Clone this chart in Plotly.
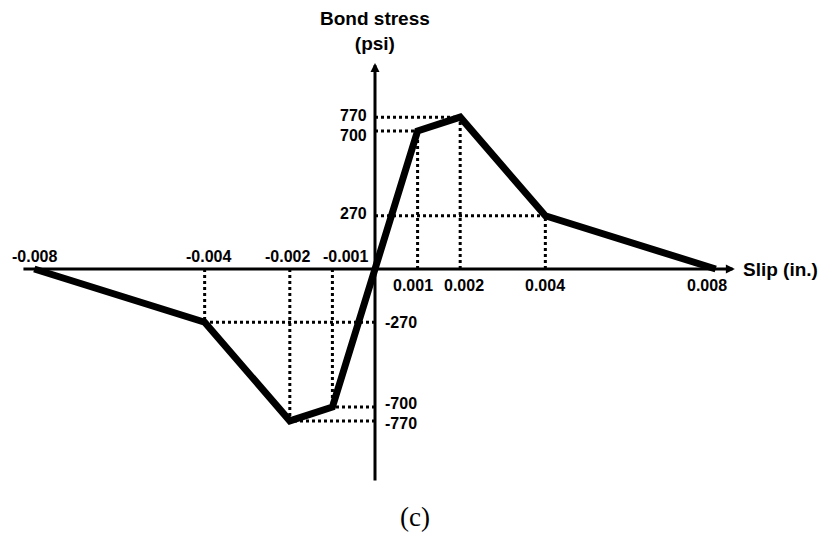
import plotly.graph_objects as go

# Data
slip = [-0.008, -0.004, -0.002, -0.001, 0.0, 0.001, 0.002, 0.004, 0.008]
stress = [0, -270, -770, -700, 0, 700, 770, 270, 0]

x_tick_labels = ["-0.008", "-0.004", "-0.002", "-0.001", "0.001", "0.002", "0.004", "0.008"]
x_tick_values = [-0.008, -0.004, -0.002, -0.001, 0.001, 0.002, 0.004, 0.008]
y_tick_values = [770, 700, 270, -270, -700, -770]
y_tick_labels = ["770", "700", "270", "-270", "-700", "-770"]

FONT = "Arial, Liberation Sans, sans-serif"

fig = go.Figure()

# dotted guide lines from the axes to each vertex
gx, gy = [], []
for xv, yv in zip(slip, stress):
    if yv == 0:
        continue
    gx += [xv, xv, None, 0, xv, None]
    gy += [0, yv, None, yv, yv, None]
fig.add_trace(go.Scatter(x=gx, y=gy, mode="lines",
                         line=dict(color="black", width=3, dash="dot"),
                         hoverinfo="skip", showlegend=False))

# bond-slip curve
fig.add_trace(go.Scatter(x=slip, y=stress, mode="lines",
                         line=dict(color="black", width=7),
                         showlegend=False))

annotations = []
# axes with arrows
annotations.append(dict(x=0.00845, y=0, ax=-0.00829, ay=0, xref="x", yref="y",
                        axref="x", ayref="y", text="", showarrow=True,
                        arrowhead=2, arrowwidth=3, arrowsize=0.6, arrowcolor="black"))
annotations.append(dict(x=0, y=1045, ax=0, ay=-1080, xref="x", yref="y",
                        axref="x", ayref="y", text="", showarrow=True,
                        arrowhead=2, arrowwidth=3, arrowsize=0.6, arrowcolor="black"))

# x tick labels
xshifts = {"-0.008": 0, "-0.004": 4, "-0.002": -2, "-0.001": 13,
           "0.001": -5, "0.002": 4, "0.004": 0, "0.008": -9}
for xv, lab in zip(x_tick_values, x_tick_labels):
    neg = xv < 0
    annotations.append(dict(x=xv, y=0, xref="x", yref="y", text="<b>%s</b>" % lab,
                            showarrow=False, xanchor="center", yanchor="middle",
                            xshift=xshifts[lab], yshift=13 if neg else -16,
                            font=dict(family=FONT, size=16, color="black")))

# y tick labels
yshifts = {"770": 2, "700": -5, "270": 2, "-270": 0, "-700": 4, "-770": -3}
for yv, lab in zip(y_tick_values, y_tick_labels):
    pos = yv > 0
    annotations.append(dict(x=0, y=yv, xref="x", yref="y", text="<b>%s</b>" % lab,
                            showarrow=False, xanchor="right" if pos else "left",
                            yanchor="middle", xshift=-6 if pos else 8,
                            yshift=yshifts[lab],
                            font=dict(family=FONT, size=16, color="black")))

# axis titles
annotations.append(dict(x=0, y=1.057, xref="x", yref="paper",
                        text="<b>Bond stress<br>(psi)</b>", showarrow=False,
                        xanchor="center", yanchor="middle",
                        font=dict(family=FONT, size=19, color="black")))
annotations.append(dict(x=0.00845, y=0, xref="x", yref="y",
                        text="<b>Slip (in.)</b>", showarrow=False,
                        xanchor="left", yanchor="middle", xshift=6,
                        font=dict(family=FONT, size=19, color="black")))
annotations.append(dict(x=0.00094, y=-0.072, xref="x", yref="paper",
                        text="(c)", showarrow=False,
                        xanchor="center", yanchor="middle",
                        font=dict(family="Liberation Serif, Times New Roman, serif",
                                  size=27, color="black")))

fig.update_layout(
    width=821, height=536,
    margin=dict(l=13, r=84, t=56, b=50),
    paper_bgcolor="white", plot_bgcolor="white",
    xaxis=dict(range=[-0.0085, 0.0085], visible=False, fixedrange=True),
    yaxis=dict(range=[-1100, 1080], visible=False, fixedrange=True),
    annotations=annotations,
    showlegend=False,
)

fig.write_html("out.html")
